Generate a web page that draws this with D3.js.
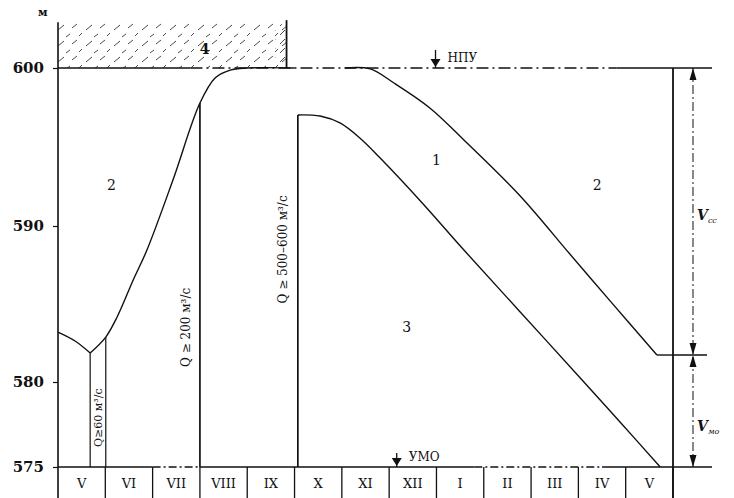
<!DOCTYPE html>
<html>
<head>
<meta charset="utf-8">
<script src="https://cdn.jsdelivr.net/npm/d3@7"></script>
<style>
  body { margin: 0; background: #fff; }
  svg { display: block; }
  text { font-family: "DejaVu Serif", "Liberation Serif", serif; fill: #111; }
</style>
</head>
<body>
<script>
// месяцы по оси X (водохозяйственный год с мая по май)
const months = ["V", "VI", "VII", "VIII", "IX", "X", "XI", "XII", "I", "II", "III", "IV", "V"];
const levelTicks = [575, 580, 590, 600];

// линия наполнения (граница зон 2 и 4) - индекс месяца / отметка, м
const fillIdx = [0, 0.36, 0.68, 1.01, 1.25, 1.59, 1.88, 2.43, 3.0, 3.32, 3.64, 4.0, 5.0];
const fillLevel = [583.2, 582.63, 581.86, 582.88, 584.17, 586.54, 588.46, 592.91, 597.78, 599.37, 599.87, 600, 600];

// верхняя диспетчерская линия (граница зон 1 и 2)
const upperIdx = [6.07, 6.6, 7.1, 7.86, 8.58, 9.77, 10.82, 11.67, 12.66, 13];
const upperLevel = [600, 599.94, 599.05, 597.47, 595.44, 591.9, 588.2, 585.2, 581.73, 581.73];

// нижняя диспетчерская линия (граница зон 1 и 3)
const lowerIdx = [5.07, 5.54, 5.96, 6.38, 6.81, 7.68, 8.58, 9.77, 11.04, 11.88, 12.73];
const lowerLevel = [597.03, 596.96, 596.52, 595.57, 594.3, 591.52, 588.46, 584.49, 580.26, 577.65, 575];

// ограничения по расходу (вертикальные линии)
const flowIdx = [0.68, 1.01, 3.0, 5.07];
const flowTop = [581.86, 582.88, 597.78, 597.03];
const flowLabels = ["Q≥60 м³/с", "Q ≥ 200 м³/с", "Q ≥ 500–600 м³/с"];
const flowLabelIdx = [0.85, 2.7, 4.75];
const flowLabelLevel = [577.9, 583.5, 588.5];

// номера зон
const zoneNames = ["1", "2", "2", "3", "4"];
const zoneIdx = [8.0, 1.13, 11.4, 7.37, 3.1];
const zoneLevel = [594.2, 592.6, 592.6, 583.5, 601.2];

const NPU = 600, UMO = 575, splitLevel = 581.73;

const width = 734, height = 498;

const svg = d3.select("body").append("svg")
  .attr("width", width)
  .attr("height", height);

const x = d3.scaleLinear().domain([0, 13]).range([58, 673]);
// шкала скана слегка неравномерна - задаём её по подписанным отметкам
const y = d3.scaleLinear().domain([575, 580, 590, 600]).range([467, 382, 226, 68]);

// штриховка зоны 4
const defs = svg.append("defs");
const pat = defs.append("pattern")
  .attr("id", "hatch")
  .attr("patternUnits", "userSpaceOnUse")
  .attr("width", 28).attr("height", 16);
pat.append("path").attr("d", "M2,14 L8,9 M16,12 L21,8 M10,5 L14,2 M23,4 L26,1")
  .attr("stroke", "#333").attr("stroke-width", 0.9);

const hatchTop = 602.9;
svg.append("rect")
  .attr("x", x(0)).attr("y", y(hatchTop))
  .attr("width", x(5) - 8 - x(0)).attr("height", y(NPU) - y(hatchTop))
  .attr("fill", "url(#hatch)");
const hatchDense = defs.append("pattern")
  .attr("id", "hatch2")
  .attr("patternUnits", "userSpaceOnUse")
  .attr("width", 9).attr("height", 9);
hatchDense.append("path").attr("d", "M1,8 L6,3")
  .attr("stroke", "#333").attr("stroke-width", 0.9);
svg.append("rect")
  .attr("x", x(4.6)).attr("y", y(hatchTop) + 2)
  .attr("width", x(5) - 8 - x(4.6)).attr("height", y(NPU) - y(hatchTop) - 4)
  .attr("fill", "url(#hatch2)");

// правая стенка штриховки
svg.append("line")
  .attr("x1", x(5) - 8).attr("x2", x(5) - 8)
  .attr("y1", y(hatchTop) - 2).attr("y2", y(NPU))
  .attr("stroke", "#111").attr("stroke-width", 1.8);

// ось Y
svg.append("line")
  .attr("x1", x(0)).attr("x2", x(0))
  .attr("y1", y(hatchTop)).attr("y2", height)
  .attr("stroke", "#111").attr("stroke-width", 1.6);

const yAxis = svg.append("g")
  .attr("transform", `translate(${x(0)},0)`)
  .call(d3.axisLeft(y).tickValues(levelTicks).tickSize(5).tickPadding(9).tickFormat(d3.format("d")));
yAxis.select(".domain").remove();
yAxis.selectAll("line").attr("stroke", "#111").attr("stroke-width", 1.2);
yAxis.selectAll("text")
  .attr("font-family", "DejaVu Serif, serif")
  .attr("font-size", 15).attr("font-weight", "bold").attr("fill", "#111");

svg.append("text").attr("x", 38).attr("y", 16)
  .attr("font-size", 11).attr("font-weight", "bold").text("м");

// горизонталь НПУ: сплошная - штрихпунктир - сплошная
const hline = (level, x1, x2, dash, w) => svg.append("line")
  .attr("x1", x1).attr("x2", x2).attr("y1", y(level)).attr("y2", y(level))
  .attr("stroke", "#111").attr("stroke-width", w || 1.5)
  .attr("stroke-dasharray", dash || null);
hline(NPU, x(0), x(2.8), null, 1.7);
hline(NPU, x(2.8), x(11.8), "12,4,2,4", 1.3);
hline(NPU, x(11.8), 712, null, 1.7);

// горизонталь УМО / верх таблицы месяцев
hline(UMO, x(0), x(2), null, 1.5);
hline(UMO, x(2), x(3), "8,3,2,3", 1.3);
hline(UMO, x(3), x(8.8), null, 1.5);
hline(UMO, x(8.8), x(11.5), "8,3,2,3", 1.3);
hline(UMO, x(11.5), 712, null, 1.5);

// таблица месяцев
svg.append("g").selectAll("line")
  .data(d3.range(1, 14))
  .join("line")
  .attr("x1", d => x(d)).attr("x2", d => x(d))
  .attr("y1", y(UMO)).attr("y2", height)
  .attr("stroke", "#111").attr("stroke-width", 1.3);

svg.append("g").selectAll("text")
  .data(months)
  .join("text")
  .attr("x", (d, i) => x(i + 0.5))
  .attr("y", 488)
  .attr("text-anchor", "middle")
  .attr("font-size", 13)
  .text(d => d);

// кривые
const smooth = d3.line()
  .x(d => x(d[0])).y(d => y(d[1]))
  .curve(d3.curveCatmullRom.alpha(0.5));

const curve = (idx, lev, gen) => svg.append("path")
  .attr("d", (gen || smooth)(idx.map((d, i) => [d, lev[i]])))
  .attr("fill", "none").attr("stroke", "#111").attr("stroke-width", 1.4);

const straight = d3.line().x(d => x(d[0])).y(d => y(d[1]));

curve(fillIdx.slice(0, 3), fillLevel.slice(0, 3));
curve(fillIdx.slice(2), fillLevel.slice(2));
curve(upperIdx.slice(0, -1), upperLevel.slice(0, -1));
curve(upperIdx.slice(-2), upperLevel.slice(-2), straight);
curve(lowerIdx, lowerLevel);

// вертикали ограничений расхода
svg.append("g").selectAll("line")
  .data(flowIdx)
  .join("line")
  .attr("x1", d => x(d)).attr("x2", d => x(d))
  .attr("y1", (d, i) => y(flowTop[i])).attr("y2", y(UMO))
  .attr("stroke", "#111").attr("stroke-width", (d, i) => i < 2 ? 1.2 : 1.7);

svg.append("g").selectAll("text")
  .data(flowLabels)
  .join("text")
  .attr("transform", (d, i) => `translate(${x(flowLabelIdx[i]) + 4},${y(flowLabelLevel[i])}) rotate(-90)`)
  .attr("text-anchor", "middle")
  .attr("font-size", (d, i) => i === 0 ? 11 : 12)
  .text(d => d);

// номера зон
svg.append("g").selectAll("text")
  .data(zoneNames)
  .join("text")
  .attr("x", (d, i) => x(zoneIdx[i]))
  .attr("y", (d, i) => y(zoneLevel[i]))
  .attr("dy", "0.35em")
  .attr("text-anchor", "middle")
  .attr("font-size", 14)
  .attr("font-weight", (d, i) => i === 4 ? "bold" : "normal")
  .text(d => d);

// отметки НПУ и УМО
const marker = (xi, level, label, len) => {
  const cx = x(xi), cy = y(level);
  svg.append("line").attr("x1", cx).attr("x2", cx)
    .attr("y1", cy - len).attr("y2", cy).attr("stroke", "#111").attr("stroke-width", 1.3);
  svg.append("path")
    .attr("d", `M${cx - 5},${cy - 9} L${cx + 5},${cy - 9} L${cx},${cy - 1} Z`)
    .attr("fill", "#111");
  svg.append("text").attr("x", cx + 12).attr("y", cy - 6)
    .attr("font-size", 12).text(label);
};
marker(7.98, NPU, "НПУ", 18);
marker(7.16, UMO, "УМО", 14);

// правая вертикаль и размерная линия объёмов
svg.append("line")
  .attr("x1", x(13)).attr("x2", x(13))
  .attr("y1", y(NPU)).attr("y2", height)
  .attr("stroke", "#111").attr("stroke-width", 1.8);
hline(splitLevel, x(13), 707, null, 1.3);

const dimX = 693;
svg.append("line")
  .attr("x1", dimX).attr("x2", dimX)
  .attr("y1", y(NPU)).attr("y2", y(UMO))
  .attr("stroke", "#111").attr("stroke-width", 1)
  .attr("stroke-dasharray", "9,3,2,3");

const arrow = (yy, dir) => svg.append("path")
  .attr("d", `M${dimX - 3.5},${yy - dir * 12} L${dimX + 3.5},${yy - dir * 12} L${dimX},${yy} Z`)
  .attr("fill", "#111");
arrow(y(NPU), -1);
arrow(y(splitLevel), 1);
arrow(y(splitLevel), -1);
arrow(y(UMO), 1);

const volLabel = (level, sub) => {
  const t = svg.append("text").attr("x", 697).attr("y", y(level))
    .attr("font-size", 14).attr("font-style", "italic").attr("font-weight", "bold");
  t.append("tspan").text("V");
  t.append("tspan").attr("font-size", 8).attr("dy", 3).attr("font-weight", "normal").text(sub);
};
volLabel(590.4, "сс");
volLabel(577.1, "мо");
</script>
</body>
</html>
